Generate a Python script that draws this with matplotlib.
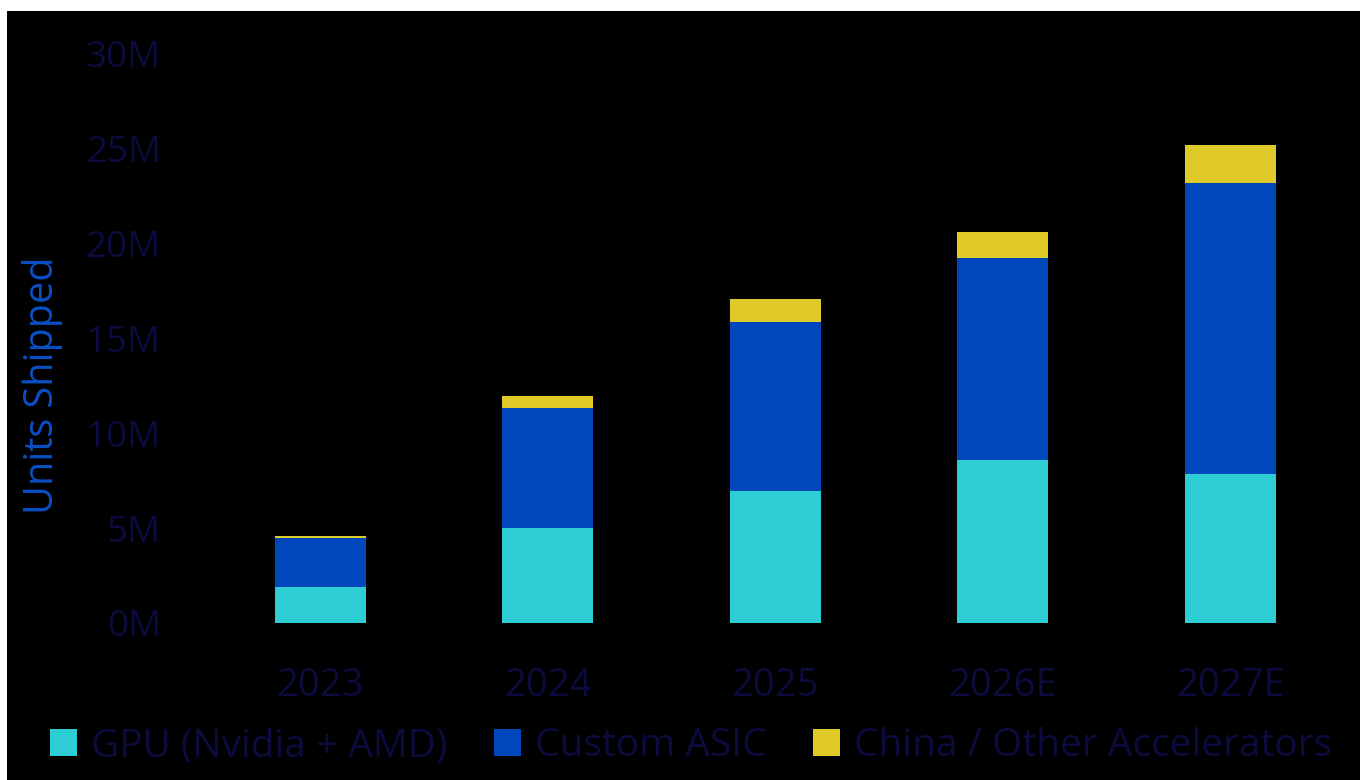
"""Stacked bar chart: AI accelerator units shipped by type, 2023-2027E."""
import numpy as np
import matplotlib
matplotlib.use("Agg")
import matplotlib.pyplot as plt
from matplotlib.patches import Rectangle

YEARS = ["2023", "2024", "2025", "2026E", "2027E"]
GPU = [1.9, 5.0, 6.95, 8.6, 7.85]        # millions
ASIC = [2.6, 6.3, 8.9, 10.6, 15.3]
CHINA = [0.08, 0.65, 1.2, 1.4, 2.0]
SERIES = ["GPU (Nvidia + AMD)", "Custom ASIC", "China / Other Accelerators"]
Y_TICKS = [0, 5, 10, 15, 20, 25, 30]

COLORS = ["#2ecdd3", "#0047bb", "#e0ca2a"]
TEXT = "#0b0b3e"
LABEL_BLUE = "#0a4fc4"

plt.rcParams["font.family"] = ["Open Sans", "DejaVu Sans"]

W, H = 1365, 780
fig = plt.figure(figsize=(W / 100, H / 100), dpi=100)
fig.patch.set_facecolor("white")
# black panel (the reference has a thin white margin top and left)
fig.add_artist(Rectangle((7 / W, 0), (1360 - 7) / W, 1 - 11 / H,
                         transform=fig.transFigure, facecolor="black",
                         edgecolor="none", zorder=-10))

left, right = 172, 1340
bottom, top = 623, 53
ax = fig.add_axes([left / W, 1 - bottom / H, (right - left) / W, (bottom - top) / H])
ax.set_facecolor("none")

x = np.arange(len(YEARS))
bw = 0.4
ax.bar(x, GPU, bw, color=COLORS[0], label=SERIES[0])
ax.bar(x, ASIC, bw, bottom=GPU, color=COLORS[1], label=SERIES[1])
ax.bar(x, CHINA, bw, bottom=np.add(GPU, ASIC), color=COLORS[2], label=SERIES[2])

ax.set_xlim(-(320 - left) / 227.5, (right - 320) / 227.5)
ax.set_ylim(0, 30)
ax.set_yticks(Y_TICKS)
ax.set_yticklabels([f"{v}M" for v in Y_TICKS])
ax.set_xticks(x)
ax.set_xticklabels(YEARS)
ax.tick_params(axis="y", length=0, pad=8, labelsize=26.5, labelcolor=TEXT)
ax.tick_params(axis="x", length=0, pad=32, labelsize=27.5, labelcolor=TEXT)
for s in ax.spines.values():
    s.set_visible(False)

fig.text(43 / W, 1 - 385 / H, "Units Shipped", rotation=90, ha="center",
         va="center", fontsize=28.5, color=LABEL_BLUE)

fig.legend(loc="center", bbox_to_anchor=(691 / W, 1 - 746 / H), ncol=3,
           frameon=False, fontsize=28, labelcolor=TEXT,
           handlelength=0.7, handleheight=0.7, handletextpad=0.35,
           columnspacing=1.2, borderaxespad=0)

fig.savefig("out.png", dpi=100, facecolor=fig.get_facecolor())
